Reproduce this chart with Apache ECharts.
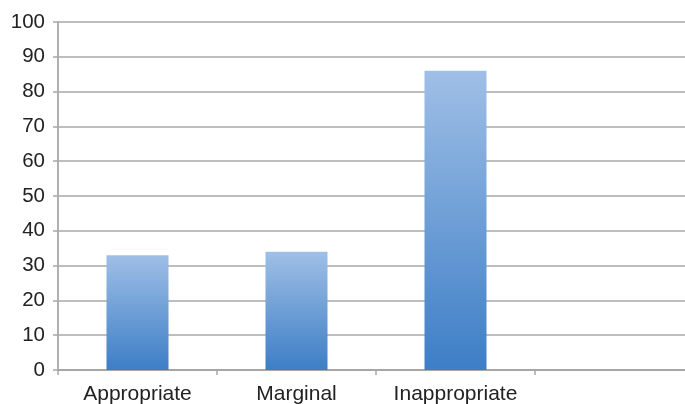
<!DOCTYPE html>
<html>
<head>
<meta charset="utf-8">
<script src="https://cdn.jsdelivr.net/npm/echarts@6/dist/echarts.min.js"></script>
<style>
  html, body { margin: 0; padding: 0; background: #fff; }
  #chart { width: 685px; height: 404px; }
</style>
</head>
<body>
<div id="chart"></div>
<script>
const categories = ['Appropriate', 'Marginal', 'Inappropriate', '']
const values = [33, 34, 86, null]

const myChart = echarts.init(document.getElementById('chart'))

myChart.setOption({
  animation: false,
  textStyle: { fontFamily: 'Liberation Sans, Arial, sans-serif' },
  // plot runs past the right edge of the picture, as in the source
  grid: { left: 58, right: -9, top: 22, bottom: 34, outerBoundsMode: 'none', containLabel: false },
  xAxis: {
    type: 'category',
    data: categories,
    axisLine: { lineStyle: { color: '#a6a6a6', width: 2 } },
    axisTick: { show: true, interval: 0, length: 5, lineStyle: { color: '#a6a6a6', width: 1.5 } },
    axisLabel: { interval: 0, hideOverlap: false, color: '#222', fontSize: 21, margin: 14 }
  },
  yAxis: {
    type: 'value',
    min: 0,
    max: 100,
    interval: 10,
    axisLine: { show: true, lineStyle: { color: '#b0b0b0', width: 2 } },
    axisTick: { show: true, length: 5, lineStyle: { color: '#a6a6a6', width: 1.5 } },
    axisLabel: { color: '#222', fontSize: 20.5, margin: 13 },
    splitLine: { lineStyle: { color: '#a8a8a8', width: 1.5 } }
  },
  series: [{
    type: 'bar',
    data: values,
    barWidth: 62,
    itemStyle: {
      color: new echarts.graphic.LinearGradient(0, 0, 0, 1, [
        { offset: 0, color: '#9fbfe6' },
        { offset: 1, color: '#3d7ec6' }
      ])
    }
  }]
})
</script>
</body>
</html>
